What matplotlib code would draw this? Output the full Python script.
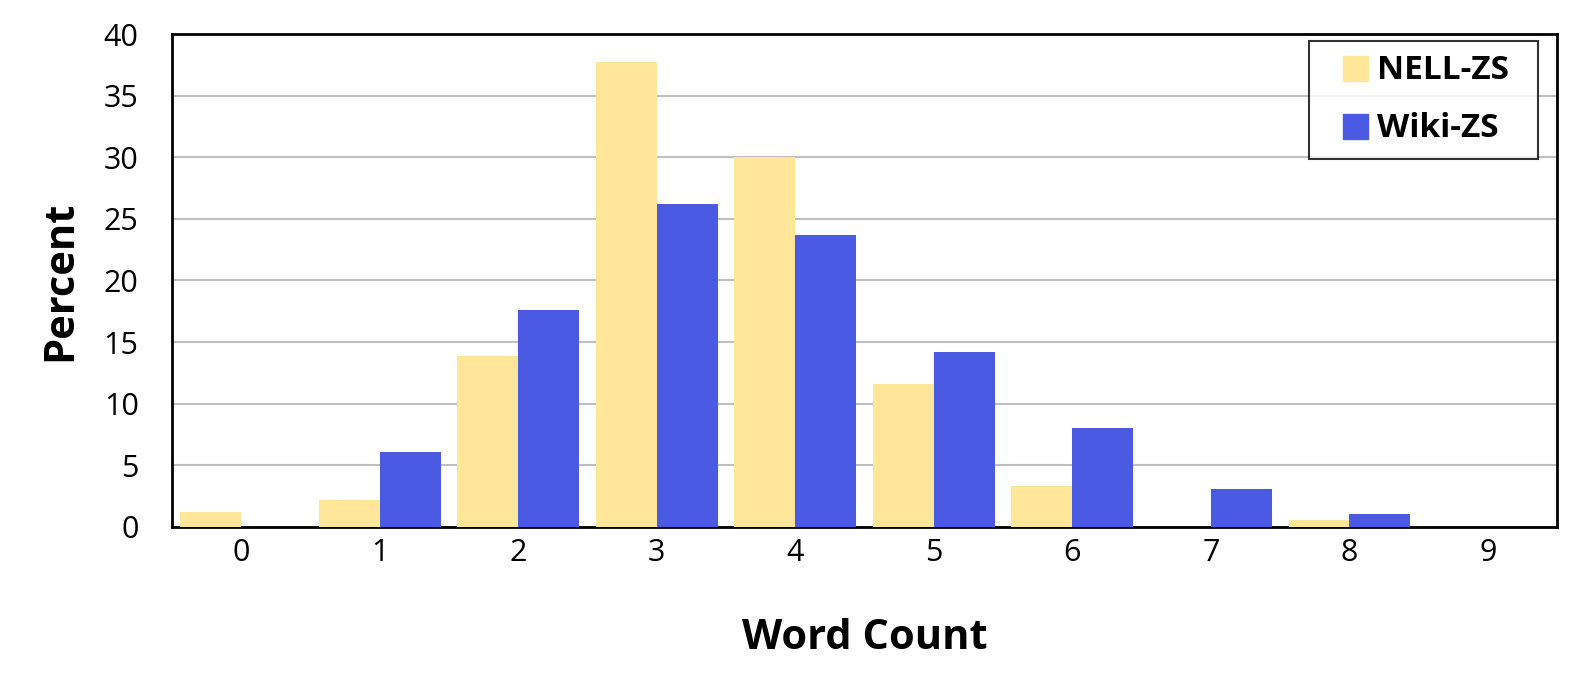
import numpy as np
import matplotlib
matplotlib.use('Agg')
import matplotlib.pyplot as plt
from matplotlib.lines import Line2D

plt.rcParams['font.family'] = ['Open Sans', 'DejaVu Sans']

# Data
word_counts = [0, 1, 2, 3, 4, 5, 6, 7, 8, 9]
nell_zs = [1.2, 2.2, 13.9, 37.7, 30.0, 11.6, 3.3, 0.0, 0.55, 0.0]
wiki_zs = [0.0, 6.1, 17.6, 26.2, 23.7, 14.2, 8.0, 3.1, 1.05, 0.0]
series_names = ['NELL-ZS', 'Wiki-ZS']
colors = ['#FFE699', '#4A5AE3']

fig = plt.figure(figsize=(15.85, 6.96), dpi=100)
ax = fig.add_axes([0.1085, 0.243, 0.874, 0.708])

x = np.arange(len(word_counts))
w = 0.44
ax.bar(x - w / 2, nell_zs, width=w, color=colors[0], zorder=3)
ax.bar(x + w / 2, wiki_zs, width=w, color=colors[1], zorder=3)

ax.set_xlim(-0.5, 9.5)
ax.set_ylim(0, 40)
ax.set_yticks(range(0, 41, 5))
ax.set_xticks(x)
ax.set_xticklabels([str(c) for c in word_counts])
ax.tick_params(axis='both', labelsize=22, length=0)
ax.tick_params(axis='x', pad=8)
ax.tick_params(axis='y', pad=24)
ax.yaxis.grid(True, color='#BFBFBF', linewidth=1.5, zorder=0)
for s in ax.spines.values():
    s.set_linewidth(2)
    s.set_color('black')

ax.set_xlabel('Word Count', fontsize=30, fontweight='bold', labelpad=36)
ax.set_ylabel('Percent', fontsize=30, fontweight='bold', labelpad=16)

# square legend swatches, like the spreadsheet legend
handles = [Line2D([], [], marker='s', linestyle='none', markersize=18,
                  markerfacecolor=c, markeredgecolor=c) for c in colors]
leg = ax.legend(handles, series_names, loc='upper right',
                bbox_to_anchor=(0.821, 0.5, 0.165, 0.486), mode='expand',
                alignment='left',
                prop={'weight': 'bold', 'size': 24}, frameon=True, fancybox=False,
                handlelength=1.95, handletextpad=-0.33,
                borderpad=0.4, labelspacing=0.75, borderaxespad=0,
                edgecolor='black')
leg.get_frame().set_linewidth(1.5)

fig.savefig('out.png', dpi=100)
